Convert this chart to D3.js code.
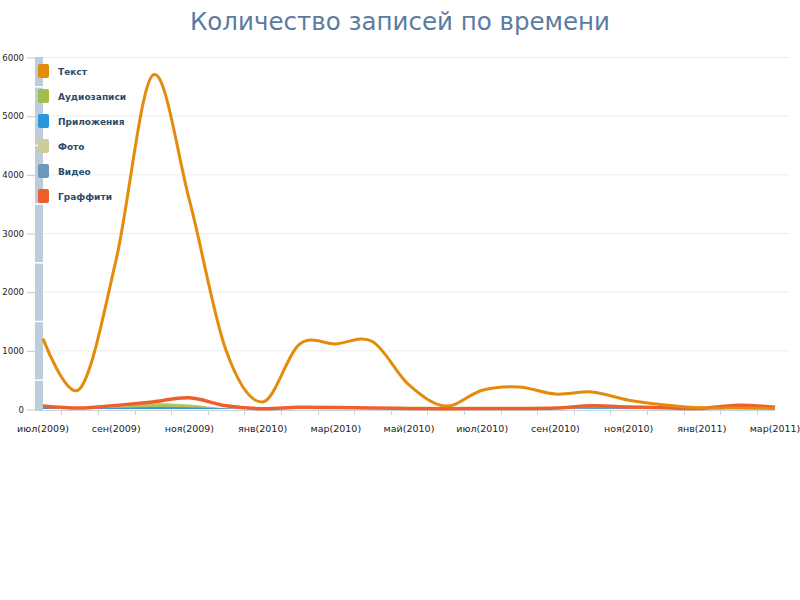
<!DOCTYPE html>
<html>
<head>
<meta charset="utf-8">
<script src="https://cdn.jsdelivr.net/npm/d3@7/dist/d3.min.js"></script>
<style>
  body { margin: 0; background: #fff; }
  svg { display: block; }
</style>
</head>
<body>
<svg id="chart" width="800" height="600"></svg>
<script>
const months = ["июл(2009)","авг(2009)","сен(2009)","окт(2009)","ноя(2009)","дек(2009)",
  "янв(2010)","фев(2010)","мар(2010)","апр(2010)","май(2010)","июн(2010)","июл(2010)",
  "авг(2010)","сен(2010)","окт(2010)","ноя(2010)","дек(2010)","янв(2011)","фев(2011)","мар(2011)"];
const seriesNames = ["Текст","Аудиозаписи","Приложения","Фото","Видео","Граффити"];
const seriesColors = ["#e38c0b","#a3bd4f","#2b95d8","#cfcc9c","#6c97b9","#ef5f2c"];
const textVals     = [1200, 340, 2550, 5690, 3560, 1000, 120, 1100, 1110, 1150, 410, 50, 320, 375, 255, 290, 150, 70, 20, 15, 10];
const audioVals    = [10, 5, 30, 95, 75, 10, 0, 10, 5, 0, 0, 0, 0, 0, 0, 5, 5, 0, 0, 0, 0];
const appsVals     = [20, 10, 15, 30, 25, 10, 5, 10, 10, 5, 5, 5, 5, 5, 5, 10, 10, 5, 5, 10, 5];
const photoVals    = [10, 5, 25, 70, 50, 10, 0, 10, 5, 0, 0, 0, 0, 0, 0, 5, 5, 0, 0, 5, 0];
const videoVals    = [30, 15, 20, 30, 25, 10, 5, 20, 15, 10, 5, 5, 5, 10, 15, 45, 35, 15, 10, 55, 25];
const graffitiVals = [50, 15, 60, 120, 190, 55, 5, 30, 25, 15, 10, 5, 10, 10, 15, 55, 35, 20, 10, 65, 30];
const yTicks = [0, 1000, 2000, 3000, 4000, 5000, 6000];

const FONT = "DejaVu Sans, Verdana, sans-serif";
const svg = d3.select("#chart");
const x = d3.scaleLinear().domain([0, months.length - 1]).range([43, 775]);
const y = d3.scaleLinear().domain([0, 6000]).range([409, 57]);
const curve = d3.curveCardinal.tension(0);

// title
svg.append("text").attr("x", 400).attr("y", 30).attr("text-anchor", "middle")
  .attr("font-family", FONT).attr("font-size", 24.5)
  .attr("fill", "#5b7ba1").text("Количество записей по времени");

// grid
svg.append("g").selectAll("line").data(yTicks.slice(1)).join("line")
  .attr("x1", 43).attr("x2", 790).attr("y1", d => y(d) + 0.5).attr("y2", d => y(d) + 0.5)
  .attr("stroke", "#ececec");

// y axis bar
svg.append("rect").attr("x", 35).attr("y", y(6000)).attr("width", 8).attr("height", y(0) - y(6000) + 2)
  .attr("fill", "#bdccdc");
svg.append("g").selectAll("line").data(d3.range(500, 6000, 1000)).join("line")
  .attr("x1", 35).attr("x2", 43).attr("y1", d => y(d) + 0.5).attr("y2", d => y(d) + 0.5)
  .attr("stroke", "#fff").attr("stroke-width", 1.5);
const yAxis = d3.axisLeft(y).tickValues(yTicks).tickSize(8).tickPadding(3).tickFormat(d3.format("d"));
const yg = svg.append("g").attr("transform", "translate(35,0.5)").call(yAxis);
yg.select(".domain").remove();
yg.selectAll(".tick line").attr("stroke", "#c8c8c8");
yg.selectAll(".tick text").attr("font-family", FONT).attr("font-size", 8.5).attr("fill", "#222");

// x axis
const xg = svg.append("g").attr("transform", "translate(0,410)");
xg.append("line").attr("x1", 43).attr("x2", 775).attr("y1", 0.5).attr("y2", 0.5).attr("stroke", "#c8d2dc");
xg.selectAll("line.tk").data(d3.range(0.5, months.length - 1, 1)).join("line").attr("class", "tk")
  .attr("x1", d => Math.round(x(d)) + 0.5).attr("x2", d => Math.round(x(d)) + 0.5)
  .attr("y1", 0).attr("y2", 5).attr("stroke", "#c8d2dc");
xg.selectAll("text").data(months.map((m, i) => [m, i]).filter(d => d[1] % 2 === 0)).join("text")
  .attr("x", d => x(d[1])).attr("y", 22).attr("text-anchor", "middle")
  .attr("font-family", FONT).attr("font-size", 9.5).attr("fill", "#222")
  .text(d => d[0]);

// areas
const areaGen = d3.area().x((d, i) => x(i)).y0(y(0)).y1(d => y(d)).curve(curve);
const lineGen = d3.line().x((d, i) => x(i)).y(d => y(d)).curve(curve);
const areas = [[photoVals, 3], [audioVals, 1], [videoVals, 4], [appsVals, 2]];
areas.forEach(([vals, ci]) => {
  svg.append("path").attr("d", areaGen(vals)).attr("fill", seriesColors[ci]).attr("fill-opacity", 0.85);
});
svg.append("path").attr("d", lineGen(graffitiVals)).attr("fill", "none")
  .attr("stroke", seriesColors[5]).attr("stroke-width", 3.5);
svg.append("path").attr("d", lineGen(textVals)).attr("fill", "none")
  .attr("stroke", seriesColors[0]).attr("stroke-width", 3);

// legend
const lg = svg.append("g");
seriesNames.forEach((n, i) => {
  const yy = 64 + i * 25;
  lg.append("rect").attr("x", 38).attr("y", yy).attr("width", 11).attr("height", 14).attr("rx", 2)
    .attr("fill", seriesColors[i]);
  lg.append("text").attr("x", 58).attr("y", yy + 11).attr("font-family", FONT)
    .attr("font-size", 9).attr("font-weight", "bold").attr("fill", "#2d4b6b").text(n);
});
</script>
</body>
</html>
